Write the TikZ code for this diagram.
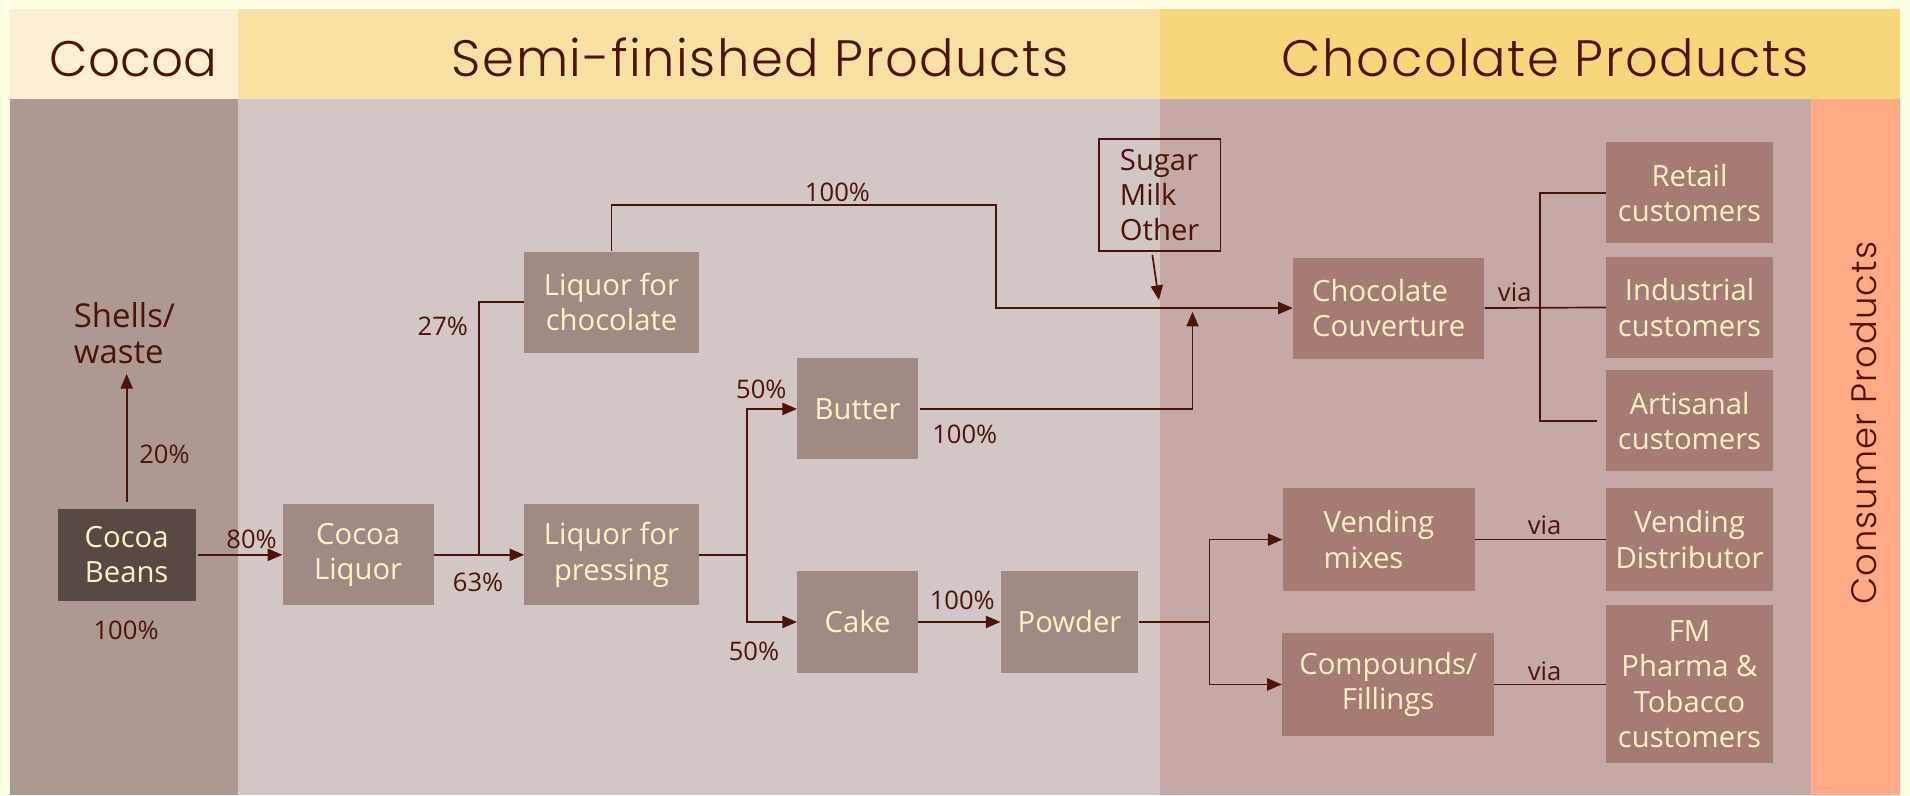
\documentclass[tikz,border=0pt]{standalone}
\usepackage{fontspec}
\setmainfont{Open Sans}
\newfontfamily\headfont{Poppins Light}[LetterSpace=3]
\usetikzlibrary{arrows.meta}

\definecolor{cream}{HTML}{FFFFE3}
\definecolor{hdcocoa}{HTML}{FDEFD3}
\definecolor{hdsemi}{HTML}{F9E1A3}
\definecolor{hdchoc}{HTML}{F7D77C}
\definecolor{bdcocoa}{HTML}{AE9893}
\definecolor{bdsemi}{HTML}{D3C7C5}
\definecolor{bdchoc}{HTML}{C6A9A6}
\definecolor{bdcons}{HTML}{FFAA84}
\definecolor{boxsemi}{HTML}{A08A83}
\definecolor{boxchoc}{HTML}{A67B74}
\definecolor{boxbean}{HTML}{594944}
\definecolor{boxtext}{HTML}{FFF2C4}
\definecolor{ink}{HTML}{4B1408}

\tikzset{
  prodbox/.style={fill=boxsemi, text=boxtext, inner sep=0pt, align=center,
    minimum height=83, font=\fontsize{24}{29}\selectfont},
  chocbox/.style={prodbox, fill=boxchoc},
  beanbox/.style={prodbox, fill=boxbean},
  head/.style={text=ink, inner sep=0pt, font=\headfont\fontsize{42}{50}\selectfont},
  pct/.style={text=ink, inner sep=0pt, font=\fontsize{21}{25}\selectfont},
  arr/.style={draw=ink, line width=1.4pt, -{Triangle[length=12pt,width=10pt]}},
  conn/.style={draw=ink, line width=1.4pt},
}

\begin{document}
\begin{tikzpicture}[x=1pt,y=-1pt]
    % background
    \useasboundingbox (0,0) rectangle (1568,653);
    \fill[cream] (0,0) rectangle (1568,653);
    \fill[hdcocoa] (8,7) rectangle (195,81);\fill[hdsemi] (195,7) rectangle (952,81);\fill[hdchoc] (952,7) rectangle (1560,81);
    \fill[bdcocoa] (8,81) rectangle (195,653);\fill[bdsemi] (195,81) rectangle (952,653);
    \fill[bdchoc] (952,81) rectangle (1487,653);\fill[bdcons] (1487,81) rectangle (1560,653);

    % headers
    \node[head, anchor=base, font=\headfont\addfontfeature{LetterSpace=0}\fontsize{41}{50}\selectfont] (hcocoa) at (109.5,63) {Cocoa};
    \node[head, anchor=base] (hsemi) at (624,63) {Semi-finished Products};
    \node[head, anchor=base] (hchoc) at (1268.5,63) {Chocolate Products};
    \node[head, rotate=90, font=\headfont\fontsize{29}{35}\selectfont] (hcons) at (1529.5,347.5) {Consumer Products};

    % boxes
    \node[beanbox, minimum width=113, minimum height=75] (beans) at (104,455.5) {Cocoa\\Beans};
    \node[prodbox, minimum width=124] (liquor) at (294,455.5) {Cocoa\\Liquor};
    \node[prodbox, minimum width=143] (liqchoc) at (502,248) {Liquor for\\chocolate};
    \node[prodbox, minimum width=143] (liqpress) at (502,455.5) {Liquor for\\pressing};
    \node[prodbox, minimum width=99] (butter) at (704,335.7) {Butter};
    \node[prodbox, minimum width=99] (cake) at (704,510.6) {Cake};
    \node[prodbox, minimum width=113] (powder) at (878,510.6) {Powder};
    \node[chocbox, minimum width=157, align=left] (couv) at (1140,252.9) {Chocolate\\Couverture};
    \node[chocbox, minimum width=158, minimum height=84, align=left] (vending) at (1132,443) {Vending\\mixes};
    \node[chocbox, minimum width=174, minimum height=84] (compounds) at (1139.5,561.9) {Compounds/\\Fillings};
    \node[chocbox, minimum width=137] (retail) at (1387,158.3) {Retail\\customers};
    \node[chocbox, minimum width=137] (industrial) at (1387,252.4) {Industrial\\customers};
    \node[chocbox, minimum width=137] (artisanal) at (1387,345.4) {Artisanal\\customers};
    \node[chocbox, minimum width=137, minimum height=84] (distributor) at (1387,443) {Vending\\Distributor};
    \node[chocbox, minimum width=137, minimum height=130] (fm) at (1387,561.7) {FM\\Pharma \&\\Tobacco\\customers};
    \node[draw=ink, line width=1.4pt, text=ink, inner sep=0pt, align=left, minimum width=100, minimum height=92,
          font=\fontsize{24}{29}\selectfont] (sugar) at (952,160) {Sugar\\Milk\\Other};
    \node[text=ink, inner sep=0pt, align=left, anchor=south west, font=\fontsize{27}{30}\selectfont] (shells) at (60.5,299) {Shells/\\waste};

    % points
    \coordinate (j1) at (393.3,455.5);\coordinate (k1) at (817.7,168.3);
    \coordinate (j2) at (613.5,455.5);\coordinate (up) at (979,256);
    \coordinate (mix) at (951.4,246.3);\coordinate (j3) at (992.8,510.6);
    \coordinate (j4) at (1264,252.9);

    % arrows
    \draw[arr, shorten <=6pt, shorten >=8pt] (beans.north) -- (beans.north |- shells.south);
    \draw[arr, shorten <=2pt] (beans) -- (liquor);
    \draw[arr] (liquor) -- (liqpress);
    \draw[conn] (j1) |- (liqchoc.west);
    \draw[arr] (liqchoc.north) |- (k1) |- (couv.west);
    \draw[conn] (liqpress.east) -- (j2);\draw[arr] (j2) |- (butter.west);\draw[arr] (j2) |- (cake.west);
    \draw[arr, shorten <=1.5pt] (butter.east) -| (up);
    \draw[arr] ([xshift=-6pt,yshift=-2.5pt]sugar.south) -- (mix);
    \draw[arr] (cake) -- (powder);
    \draw[conn] (powder.east) -- (j3);\draw[arr] (j3) |- (vending.west);\draw[arr] (j3) |- (compounds.west);
    \draw[conn] (couv.east) -- (industrial.west);\draw[conn] (j4) |- (retail.west);\draw[conn, shorten >=7pt] (j4) |- (artisanal.west);
    \draw[conn] (vending) -- (distributor);\draw[conn] (compounds.east) -- (fm.west |- compounds.east);

    % labels
    \node[pct] (p20) at (135,372.6) {20\%};\node[pct] (p100a) at (103.5,517.8) {100\%};
    \node[pct] (p80) at (206.5,442.8) {80\%};\node[pct] (p63) at (392.5,478.4) {63\%};
    \node[pct] (p27) at (363.5,267.6) {27\%};\node[pct] (p100b) at (687.5,157.9) {100\%};
    \node[pct] (p50a) at (625,320) {50\%};\node[pct] (p50b) at (619,535) {50\%};
    \node[pct] (p100c) at (792,356.6) {100\%};\node[pct] (p100d) at (790,492.6) {100\%};
    \node[pct] (via1) at (1243.5,240.3) {via};\node[pct] (via2) at (1268,431) {via};\node[pct] (via3) at (1268,551.4) {via};
\end{tikzpicture}
\end{document}
